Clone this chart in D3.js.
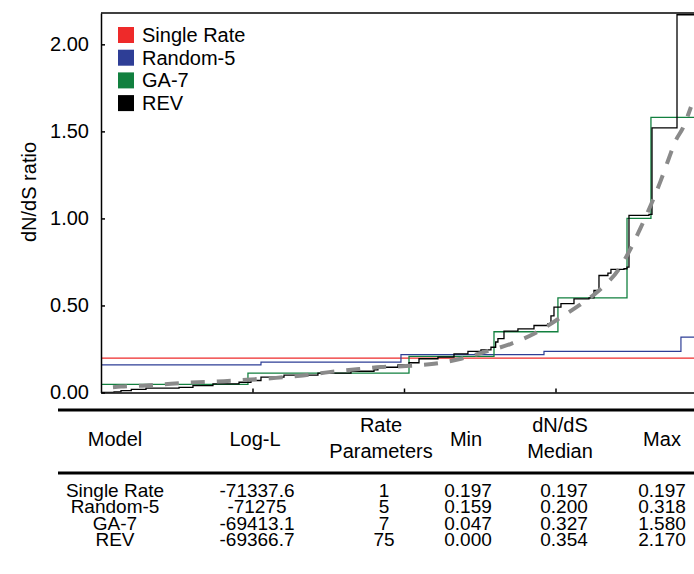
<!DOCTYPE html>
<html>
<head>
<meta charset="utf-8">
<script src="https://cdn.jsdelivr.net/npm/d3@7"></script>
<style>
  body { margin: 0; background: #fff; }
  svg { display: block; font-family: "Liberation Sans", Arial, Helvetica, sans-serif; }
</style>
</head>
<body>
<div id="chart"></div>
<script>
// sorted sites (rank) vs dN/dS
const nSites = 4000;

const singleRate = [[0, 0.197], [4000, 0.197]];

const random5 = [
  [0, 0.159], [1056, 0.175], [1980, 0.218], [2924, 0.236], [3828, 0.318], [4000, 0.318]
];

const ga7 = [
  [0, 0.047], [970, 0.111], [2033, 0.207], [2594, 0.349],
  [3016, 0.544], [3472, 1.0], [3630, 1.58], [4000, 1.58]
];

const rev = [
  [0, 0], [86, 0.004], [132, 0.011], [200, 0.018], [297, 0.025], [515, 0.030],
  [607, 0.040], [739, 0.050], [911, 0.059], [990, 0.069], [1056, 0.088],
  [1208, 0.100], [1432, 0.111], [1650, 0.122], [1802, 0.130], [1828, 0.145],
  [1960, 0.159], [2033, 0.171], [2099, 0.194], [2224, 0.203], [2330, 0.222],
  [2422, 0.236], [2508, 0.245], [2574, 0.260], [2605, 0.290], [2620, 0.309],
  [2660, 0.352], [2752, 0.366], [2858, 0.385], [2950, 0.395], [2970, 0.44],
  [2990, 0.49], [3036, 0.51], [3122, 0.538], [3221, 0.544], [3254, 0.586],
  [3287, 0.672], [3346, 0.686], [3366, 0.707], [3452, 0.711], [3472, 0.72],
  [3485, 1.017], [3617, 1.023], [3637, 1.52], [3788, 1.52], [3802, 2.17], [4000, 2.17]
];

// fitted curve (grey dashed)
const fitCurve = [
  [79, 0.030], [132, 0.034], [297, 0.040], [462, 0.050], [640, 0.059],
  [812, 0.065], [990, 0.075], [1155, 0.084], [1333, 0.098], [1505, 0.117],
  [1670, 0.132], [1848, 0.146], [2013, 0.152], [2198, 0.165], [2376, 0.194],
  [2528, 0.232], [2706, 0.280], [2858, 0.337], [3023, 0.425], [3155, 0.500],
  [3287, 0.586], [3419, 0.710], [3498, 0.830], [3564, 0.950], [3650, 1.120],
  [3696, 1.220], [3742, 1.330], [3795, 1.450], [3841, 1.520], [3894, 1.640]
];

const yTicks = [0, 0.5, 1, 1.5, 2];
const xTicks = [1000, 2000, 3000];

const legendNames = ["Single Rate", "Random-5", "GA-7", "REV"];
const colors = ["#ee2a2a", "#2e3e96", "#12803f", "#000000"];

const tableHead = [["Model"], ["Log-L"], ["Rate", "Parameters"], ["Min"], ["dN/dS", "Median"], ["Max"]];
const tableRows = [
  ["Single Rate", "-71337.6", "1", "0.197", "0.197", "0.197"],
  ["Random-5", "-71275", "5", "0.159", "0.200", "0.318"],
  ["GA-7", "-69413.1", "7", "0.047", "0.327", "1.580"],
  ["REV", "-69366.7", "75", "0.000", "0.354", "2.170"]
];

const width = 694, height = 574;
const plot = { left: 101, right: 707, top: 13, bottom: 392.5 };

const svg = d3.select("#chart").append("svg")
  .attr("width", width)
  .attr("height", height);

const x = d3.scaleLinear().domain([0, nSites]).range([plot.left, plot.right]);
const y = d3.scaleLinear().domain([0, 2.18]).range([plot.bottom, plot.top]);

svg.append("clipPath").attr("id", "clip")
  .append("rect")
  .attr("x", plot.left).attr("y", plot.top)
  .attr("width", plot.right - plot.left).attr("height", plot.bottom - plot.top);

const stepLine = d3.line().x(d => x(d[0])).y(d => y(d[1])).curve(d3.curveStepAfter);

const g = svg.append("g").attr("clip-path", "url(#clip)");

g.append("path").datum(singleRate)
  .attr("d", stepLine).attr("fill", "none")
  .attr("stroke", colors[0]).attr("stroke-width", 1.2);

g.append("path").datum(random5)
  .attr("d", stepLine).attr("fill", "none")
  .attr("stroke", colors[1]).attr("stroke-width", 1.2);

g.append("path").datum(ga7)
  .attr("d", stepLine).attr("fill", "none")
  .attr("stroke", colors[2]).attr("stroke-width", 1.3);

g.append("path").datum(rev)
  .attr("d", stepLine).attr("fill", "none")
  .attr("stroke", colors[3]).attr("stroke-width", 1.3);

g.append("path").datum(fitCurve)
  .attr("d", d3.line().x(d => x(d[0])).y(d => y(d[1])).curve(d3.curveMonotoneX))
  .attr("fill", "none")
  .attr("stroke", "#8a8a8a")
  .attr("stroke-width", 4)
  .attr("stroke-dasharray", "14,12");

// axes
const yAxis = svg.append("g")
  .attr("transform", `translate(${plot.left},0)`)
  .call(d3.axisLeft(y).tickValues(yTicks).tickFormat(d3.format(".2f"))
    .tickSizeInner(-4).tickSizeOuter(0).tickPadding(12));

const xAxis = svg.append("g")
  .attr("transform", `translate(0,${plot.bottom})`)
  .call(d3.axisBottom(x).tickValues(xTicks).tickFormat("")
    .tickSizeInner(-4).tickSizeOuter(0));

svg.selectAll(".domain, .tick line").attr("stroke", "#000").attr("stroke-width", 1.5);
yAxis.selectAll("text").attr("font-size", 20).attr("fill", "#000");

// top frame
svg.append("line")
  .attr("x1", plot.left).attr("x2", plot.right)
  .attr("y1", plot.top).attr("y2", plot.top)
  .attr("stroke", "#000").attr("stroke-width", 1.5);

svg.append("text")
  .attr("transform", `translate(36,192) rotate(-90)`)
  .attr("text-anchor", "middle")
  .attr("font-size", 20)
  .text("dN/dS ratio");

// legend
const legend = svg.append("g").attr("transform", "translate(118,27)");
legendNames.forEach((name, i) => {
  const row = legend.append("g").attr("transform", `translate(0,${i * 22.7})`);
  row.append("rect").attr("width", 16).attr("height", 16).attr("fill", colors[i]);
  row.append("text").attr("x", 24).attr("y", 15).attr("font-size", 20).text(name);
});

// table
const headX = [115, 255, 381, 466, 560, 662];
const colX = [115, 257, 384, 468, 564, 662];
const table = svg.append("g");

table.append("line")
  .attr("x1", 58).attr("x2", width).attr("y1", 410).attr("y2", 410)
  .attr("stroke", "#000").attr("stroke-width", 3);
table.append("line")
  .attr("x1", 58).attr("x2", width).attr("y1", 473).attr("y2", 473)
  .attr("stroke", "#000").attr("stroke-width", 3);

tableHead.forEach((lines, i) => {
  const y0 = lines.length === 1 ? 446 : 432;
  lines.forEach((t, j) => {
    table.append("text")
      .attr("x", headX[i]).attr("y", y0 + j * 26)
      .attr("text-anchor", "middle").attr("font-size", 20)
      .text(t);
  });
});

tableRows.forEach((row, r) => {
  row.forEach((t, i) => {
    table.append("text")
      .attr("x", colX[i]).attr("y", 497 + r * 16.4)
      .attr("text-anchor", "middle").attr("font-size", 19)
      .text(t);
  });
});
</script>
</body>
</html>
